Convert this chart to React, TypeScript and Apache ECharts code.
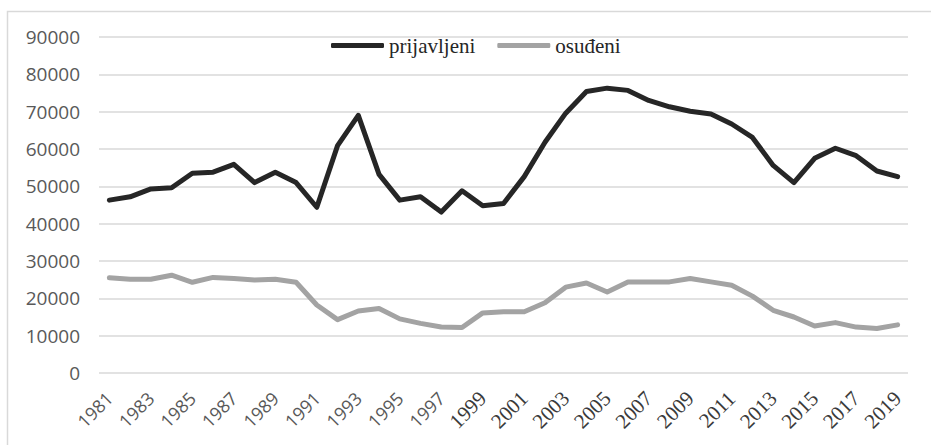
import React, { useEffect, useRef } from "react";
import * as echarts from "echarts";

const years: string[] = [];
for (let y = 1981; y <= 2019; y++) years.push(String(y));

const prijavljeni = [
  46300, 47200, 49300, 49600, 53500, 53800, 55900, 51000, 53800, 51000,
  44400, 60900, 69000, 53200, 46300, 47200, 43100, 48800, 44800, 45400,
  52600, 61800, 69600, 75400, 76300, 75700, 73000, 71300, 70100, 69400,
  66700, 63100, 55600, 51000, 57500, 60200, 58200, 54100, 52600,
];

const osudeni = [
  25500, 25100, 25100, 26200, 24300, 25600, 25300, 24900, 25100, 24300,
  18200, 14300, 16600, 17300, 14500, 13300, 12300, 12200, 16100, 16400,
  16400, 18800, 23000, 24100, 21700, 24400, 24400, 24400, 25300, 24400,
  23500, 20600, 16800, 15000, 12600, 13500, 12300, 11900, 12900,
];

const seriesNames = ["prijavljeni", "osuđeni"];

export default function App() {
  const ref = useRef<HTMLDivElement>(null);
  useEffect(() => {
    if (!ref.current) return;
    const chart = echarts.init(ref.current, undefined, { renderer: "svg" });
    const xData = years.map((y) =>
      Number(y) < 1999
        ? { value: y, textStyle: { fontFamily: "Open Sans", fontSize: 18, color: "#595959" } }
        : { value: y, textStyle: { fontFamily: "Liberation Serif", fontSize: 21, color: "#3a3a3a" } }
    );
    chart.setOption({
      animation: false,
      backgroundColor: "#ffffff",
      graphic: [
        {
          type: "rect",
          shape: { x: 7.5, y: 11.5, width: 940, height: 450 },
          style: { fill: "none", stroke: "#d9d9d9", lineWidth: 1.5 },
          silent: true,
        },
      ],
      legend: {
        data: seriesNames,
        left: 331,
        top: 35,
        padding: 0,
        itemWidth: 53,
        itemHeight: 5,
        itemGap: 22,
        icon: "roundRect",
        textStyle: {
          fontFamily: "Liberation Serif",
          fontSize: 21,
          color: "#262626",
        },
      },
      grid: { left: 99, right: 23, top: 37, bottom: 72, containLabel: false },
      xAxis: {
        type: "category",
        data: xData,
        boundaryGap: true,
        axisLine: { show: false },
        axisTick: { show: false },
        axisLabel: {
          interval: 1,
          rotate: 45,
          margin: 22,
          hideOverlap: false,
        },
      },
      yAxis: {
        type: "value",
        min: 0,
        max: 90000,
        interval: 10000,
        axisLine: { show: false },
        axisTick: { show: false },
        axisLabel: {
          margin: 19,
          fontFamily: "Open Sans",
          fontSize: 19,
          color: "#595959",
          formatter: (v: number) => String(v),
        },
        splitLine: { lineStyle: { color: "#d9d9d9", width: 1.5 } },
      },
      series: [
        {
          name: seriesNames[0],
          type: "line",
          data: prijavljeni,
          symbol: "none",
          color: "#262626",
          lineStyle: { width: 5, color: "#262626", cap: "round", join: "round" },
        },
        {
          name: seriesNames[1],
          type: "line",
          data: osudeni,
          symbol: "none",
          color: "#a3a3a3",
          lineStyle: { width: 5, color: "#a3a3a3", cap: "round", join: "round" },
        },
      ],
    });
    return () => chart.dispose();
  }, []);
  return (
    <div
      ref={ref}
      style={{ position: "fixed", left: 0, top: 0, width: 931, height: 445 }}
    />
  );
}
